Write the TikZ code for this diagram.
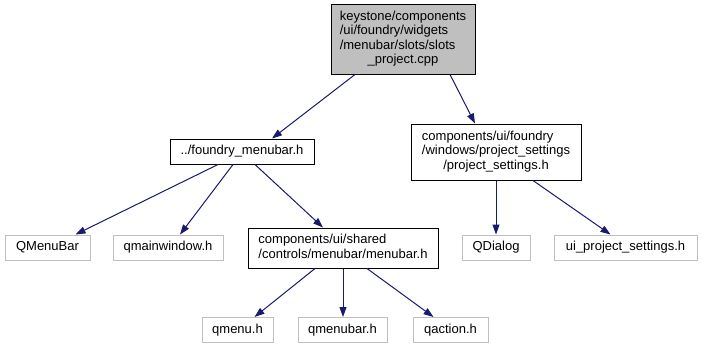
\documentclass[tikz,border=0pt]{standalone}
\usepackage{fontspec}
\setmainfont{Liberation Sans}
\usetikzlibrary{arrows.meta}
\definecolor{edgeblue}{HTML}{191970}
\definecolor{extgray}{HTML}{BFBFBF}
\definecolor{rootgray}{HTML}{BFBFBF}
\begin{document}
\begin{tikzpicture}[x=1pt,y=-1pt,
  box/.style={draw=black, line width=1pt, fill=white, inner sep=0pt,
    font=\fontsize{13}{14.3}\selectfont, align=center, minimum height=25pt},
  ext/.style={box, draw=extgray},
  rootbox/.style={box, fill=rootgray},
  dep/.style={draw=edgeblue, line width=1pt, -{Triangle[length=10pt,width=7pt]}}]
\fill[white] (0,0) rectangle (703,349);
\useasboundingbox (0,0) rectangle (703,349);

\node[rootbox, minimum width=144pt, minimum height=70pt] (root) at (403,39)
  {\begin{tabular}{@{}l@{}}keystone/components\\/ui/foundry/widgets\\/menubar/slots/slots\\\multicolumn{1}{@{}c@{}}{\_project.cpp}\end{tabular}};
\node[box, minimum width=144pt] (fm) at (242,151.5) {../foundry\_menubar.h};
\node[box, minimum width=170pt, minimum height=56pt] (ps) at (496,152)
  {\begin{tabular}{@{}l@{}}components/ui/foundry\\/windows/project\_settings\\\multicolumn{1}{@{}c@{}}{/project\_settings.h}\end{tabular}};
\node[ext, minimum width=85pt] (qmb) at (47.5,247.5) {QMenuBar};
\node[ext, minimum width=110pt] (qmw) at (168,247.5) {qmainwindow.h};
\node[box, minimum width=190pt, minimum height=40pt] (mb) at (343,248)
  {\begin{tabular}{@{}l@{}}components/ui/shared\\\multicolumn{1}{@{}c@{}}{/controls/menubar/menubar.h}\end{tabular}};
\node[ext, minimum width=68pt] (qd) at (496,247.5) {QDialog};
\node[ext, minimum width=143pt] (ui) at (625.5,247.5) {ui\_project\_settings.h};
\node[ext, minimum width=71pt] (qm) at (237.5,330) {qmenu.h};
\node[ext, minimum width=89pt] (qmbar) at (342.5,330) {qmenubar.h};
\node[ext, minimum width=75pt] (qa) at (450.5,330) {qaction.h};

\draw[dep] ([xshift=-48pt]root.south) -- ([xshift=30pt]fm.north);
\draw[dep] ([xshift=47pt]root.south) -- ([xshift=-21pt]ps.north);
\draw[dep] ([xshift=-24pt]fm.south) -- ([xshift=28pt]qmb.north);
\draw[dep] ([xshift=-9pt]fm.south) -- ([xshift=12pt]qmw.north);
\draw[dep] ([xshift=13pt]fm.south) -- ([xshift=-20pt]mb.north);
\draw[dep] ([xshift=-28pt]mb.south) -- ([xshift=17pt]qm.north);
\draw[dep] (mb.south) -- (qmbar.north -| mb.south);
\draw[dep] ([xshift=24pt]mb.south) -- ([xshift=-17pt]qa.north);
\draw[dep] (ps.south) -- (qd.north);
\draw[dep] ([xshift=37pt]ps.south) -- ([xshift=-15pt]ui.north);
\end{tikzpicture}
\end{document}
